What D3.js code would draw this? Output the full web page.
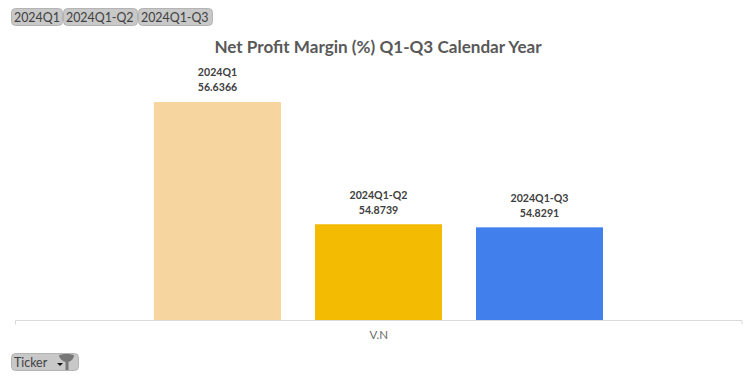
<!DOCTYPE html>
<html>
<head>
<meta charset="utf-8">
<script src="https://cdn.jsdelivr.net/npm/d3@7"></script>
<style>
  html, body { margin: 0; padding: 0; background: #fff; }
  svg { display: block; font-family: Lato, "Open Sans", sans-serif; }
</style>
</head>
<body>
<div id="chart"></div>
<script>
const tickers = ['V.N'];
const periods = ['2024Q1', '2024Q1-Q2', '2024Q1-Q3'];
const margins = [56.6366, 54.8739, 54.8291];
const barColors = ['#f6d59f', '#f3bb02', '#4180ec'];
const filterLabels = ['2024Q1', '2024Q1-Q2', '2024Q1-Q3'];
const fieldLabel = 'Ticker';
const chartTitle = 'Net Profit Margin (%) Q1-Q3 Calendar Year';

const width = 756, height = 378;
const baseY = 320.5, axisLeft = 15.5, axisRight = 742;

const svg = d3.select('#chart').append('svg')
    .attr('width', width)
    .attr('height', height);

// Excel-style truncated value axis, hidden like the original
const y = d3.scaleLinear().domain([53.486, 56.6366]).range([baseY, 102]);
const x0 = d3.scaleBand().domain(tickers).range([axisLeft, axisRight]);
const x1 = d3.scaleBand().domain(periods)
    .range([378.5 - 241.5, 378.5 + 241.5])
    .paddingInner(34 / 161)
    .paddingOuter(17 / 161);

svg.append('text')
    .attr('x', 378)
    .attr('y', 52.5)
    .attr('text-anchor', 'middle')
    .attr('font-size', 17.1)
    .attr('font-weight', 700)
    .attr('fill', '#595959')
    .text(chartTitle);

// Bars
svg.selectAll('.bar')
    .data(periods)
    .join('rect')
    .attr('class', 'bar')
    .attr('x', d => x1(d))
    .attr('width', x1.bandwidth())
    .attr('y', (d, i) => y(margins[i]))
    .attr('height', (d, i) => baseY - y(margins[i]))
    .attr('fill', (d, i) => barColors[i]);

// Two-line data labels
const labels = svg.selectAll('.bar-label')
    .data(periods)
    .join('text')
    .attr('class', 'bar-label')
    .attr('text-anchor', 'middle')
    .attr('font-size', 10.6)
    .attr('font-weight', 700)
    .attr('fill', '#404040');

labels.append('tspan')
    .attr('x', d => x1(d) + x1.bandwidth() / 2)
    .attr('y', (d, i) => i ? y(margins[i]) - 25 : y(margins[i]) - 26)
    .text(d => d);

labels.append('tspan')
    .attr('x', d => x1(d) + x1.bandwidth() / 2)
    .attr('y', (d, i) => i ? y(margins[i]) - 10 : y(margins[i]) - 11)
    .text((d, i) => margins[i].toFixed(4));

// Category axis
const axisG = svg.append('g')
    .attr('transform', `translate(0,${baseY})`)
    .call(d3.axisBottom(x0).tickSize(0).tickPadding(10));
axisG.select('.domain')
    .attr('d', `M${axisLeft},4V0H${axisRight}V4`)
    .attr('fill', 'none')
    .attr('stroke', '#d9d9d9');
axisG.selectAll('text')
    .attr('font-family', 'Lato, "Open Sans", sans-serif')
    .attr('font-size', 11.5)
    .attr('fill', '#6a6a6a');

// Pivot chart field buttons
function fieldButton(bx, by, w, h, label) {
    const g = svg.append('g').attr('transform', `translate(${bx},${by})`);
    g.append('rect')
        .attr('x', 0.5).attr('y', 0.5)
        .attr('width', w - 1).attr('height', h - 1)
        .attr('rx', 4)
        .attr('fill', '#c8c8c8')
        .attr('stroke', '#b4b4b4');
    g.append('text')
        .attr('x', 3)
        .attr('y', h - 4.5)
        .attr('font-size', 12.4)
        .attr('fill', '#404040')
        .text(label);
    return g;
}

const filterX = [11, 63, 138];
const filterW = [52, 75, 75];
filterLabels.forEach((d, i) => fieldButton(filterX[i], 8, filterW[i], 18, d));

const ticker = fieldButton(11, 353, 68, 18, fieldLabel);
ticker.append('path')
    .attr('d', 'M48,2c4,-1.5 11,-1.5 15,0c0,3.5 -2.5,6 -5.5,7v8h-3v-8c-3,-1 -6.5,-3.5 -6.5,-7z')
    .attr('fill', '#777');
ticker.append('path')
    .attr('d', 'M46,10h6l-3,3z')
    .attr('fill', '#111');
</script>
</body>
</html>
